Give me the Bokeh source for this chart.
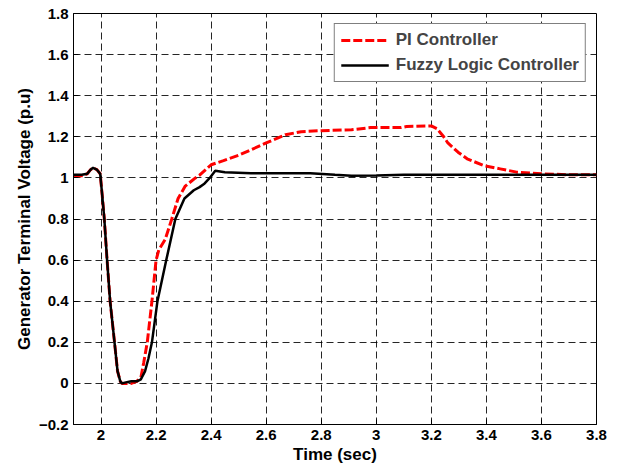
from bokeh.plotting import figure
from bokeh.models import Legend, LegendItem, FixedTicker, Range1d
from bokeh.embed import file_html
from bokeh.resources import INLINE

# Fuzzy logic controller (black)
t_fuzzy = [1.90, 1.93, 1.95, 1.962, 1.971, 1.985, 1.997, 2.004, 2.012, 2.022, 2.033, 2.049, 2.060, 2.070, 2.076,
           2.09, 2.11, 2.13, 2.145, 2.16, 2.172, 2.185, 2.205, 2.237, 2.27, 2.303, 2.337, 2.358, 2.374,
           2.395, 2.415, 2.45, 2.545, 2.6, 2.7, 2.76, 2.85, 2.91, 3.0, 3.1, 3.2, 3.3, 3.4, 3.5, 3.6, 3.7, 3.8]
v_fuzzy = [1.015, 1.015, 1.02, 1.04, 1.049, 1.04, 1.02, 0.92, 0.80, 0.60, 0.40, 0.20, 0.06, 0.01, 0.00,
           0.005, 0.01, 0.01, 0.02, 0.06, 0.12, 0.20, 0.40, 0.60, 0.80, 0.90, 0.94, 0.955, 0.97,
           1.00, 1.035, 1.027, 1.023, 1.023, 1.023, 1.023, 1.015, 1.01, 1.012, 1.015, 1.015, 1.015, 1.015, 1.015, 1.015, 1.015, 1.015]

# PI controller (red dashed)
t_pi = [1.90, 1.93, 1.95, 1.962, 1.971, 1.985, 1.997, 2.004, 2.012, 2.022, 2.033, 2.049, 2.060, 2.070, 2.076,
        2.09, 2.11, 2.13, 2.145, 2.155, 2.168, 2.185, 2.20, 2.21, 2.233, 2.257, 2.28, 2.306, 2.343, 2.358,
        2.40, 2.445, 2.5, 2.6, 2.67, 2.727, 2.8, 2.91, 2.98, 3.09, 3.11, 3.2, 3.22, 3.245, 3.26, 3.297,
        3.33, 3.39, 3.45, 3.51, 3.6, 3.7, 3.8]
v_pi = [1.01, 1.01, 1.02, 1.04, 1.049, 1.04, 1.02, 0.92, 0.80, 0.60, 0.40, 0.20, 0.06, 0.01, 0.00,
        0.00, 0.00, 0.01, 0.03, 0.10, 0.20, 0.40, 0.60, 0.65, 0.70, 0.80, 0.90, 0.96, 1.00, 1.013,
        1.064, 1.084, 1.11, 1.17, 1.21, 1.225, 1.23, 1.234, 1.245, 1.245, 1.25, 1.253, 1.24, 1.20, 1.17, 1.125,
        1.093, 1.06, 1.044, 1.028, 1.02, 1.015, 1.015]

x_ticks = [2, 2.2, 2.4, 2.6, 2.8, 3, 3.2, 3.4, 3.6, 3.8]
y_ticks = [-0.2, 0, 0.2, 0.4, 0.6, 0.8, 1, 1.2, 1.4, 1.6, 1.8]

FONT = "Liberation Sans"

p = figure(width=609, height=468, output_backend="svg", toolbar_location=None,
           x_range=Range1d(1.9, 3.8), y_range=Range1d(-0.2, 1.8),
           min_border_left=73, min_border_right=13, min_border_top=13, min_border_bottom=44)

p.outline_line_color = "black"
p.outline_line_width = 1
p.background_fill_color = "white"
p.border_fill_color = "white"

for ax in (p.xaxis[0], p.yaxis[0]):
    ax.major_label_text_font = FONT
    ax.major_label_text_font_style = "bold"
    ax.major_label_text_font_size = "15px"
    ax.major_label_text_color = "black"
    ax.axis_label_text_font = FONT
    ax.axis_label_text_font_style = "bold"
    ax.axis_label_text_font_size = "17px"
    ax.axis_label_text_color = "black"
    ax.axis_line_color = "black"
    ax.major_tick_line_color = "black"
    ax.major_tick_in = 5
    ax.major_tick_out = 0
    ax.minor_tick_line_color = None
    ax.major_label_standoff = 5
    ax.axis_label_standoff = 2

p.xaxis[0].ticker = FixedTicker(ticks=x_ticks)
p.yaxis[0].ticker = FixedTicker(ticks=y_ticks)
p.xaxis[0].major_label_overrides = {2: "2", 3: "3"}
p.yaxis[0].major_label_overrides = {1: "1", 0: "0"}
p.xaxis[0].axis_label = "Time (sec)"
p.yaxis[0].axis_label = "Generator Terminal Voltage (p.u)"

for g in (p.xgrid[0], p.ygrid[0]):
    g.grid_line_color = "black"
    g.grid_line_dash = "7 4"
    g.grid_line_width = 1
    g.grid_line_alpha = 0.85

r_pi = p.line(t_pi, v_pi, line_color="red", line_width=3, line_dash="9 3")
r_fz = p.line(t_fuzzy, v_fuzzy, line_color="black", line_width=2.5)

legend = Legend(items=[LegendItem(label="PI Controller", renderers=[r_pi]),
                       LegendItem(label="Fuzzy Logic Controller", renderers=[r_fz])],
                location="top_right")
legend.label_text_font = FONT
legend.label_text_font_style = "bold"
legend.label_text_font_size = "17px"
legend.border_line_color = "black"
legend.border_line_width = 1
legend.glyph_width = 48
legend.glyph_height = 18
legend.label_height = 18
legend.label_standoff = 7
legend.spacing = 5
legend.padding = 6
legend.margin = 10
legend.background_fill_alpha = 1
p.add_layout(legend)

open("out.html", "w").write(file_html(p, INLINE))
